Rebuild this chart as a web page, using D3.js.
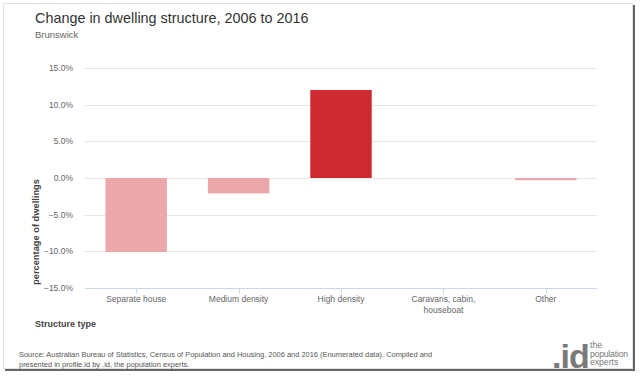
<!DOCTYPE html>
<html>
<head>
<meta charset="utf-8">
<script src="https://cdn.jsdelivr.net/npm/d3@7"></script>
<style>
  body { margin: 0; background: #fff; }
  svg { display: block; font-family: "Liberation Sans", Arial, sans-serif; }
</style>
</head>
<body>
<svg id="chart" width="640" height="376"></svg>
<script>
// Data
const categories = ['Separate house', 'Medium density', 'High density', 'Caravans, cabin, houseboat', 'Other'];
const changes = [-10.1, -2.1, 12.0, 0.0, -0.3];
const yTicks = [-15, -10, -5, 0, 5, 10, 15];

const svg = d3.select('#chart');

// Card frame with shadow
svg.append('rect').attr('x', 5).attr('y', 5).attr('width', 630).attr('height', 366).attr('fill', '#666');
svg.append('rect').attr('x', 3.5).attr('y', 3.5).attr('width', 629).attr('height', 365)
    .attr('fill', '#fff').attr('stroke', '#e2e2e2');

// Titles
svg.append('text').attr('x', 35).attr('y', 23).attr('font-size', 14.4).attr('fill', '#333')
    .text('Change in dwelling structure, 2006 to 2016');
svg.append('text').attr('x', 35).attr('y', 38).attr('font-size', 9.5).attr('fill', '#666')
    .text('Brunswick');

// Scales
const x = d3.scaleBand().domain(categories).range([85, 597]).paddingInner(0.4).paddingOuter(0.2);
const y = d3.scaleLinear().domain([-15, 15]).range([288, 68]);

// Gridlines
svg.append('g').selectAll('line').data(yTicks.filter(d => d !== -15)).join('line')
    .attr('x1', 85).attr('x2', 597)
    .attr('y1', d => Math.round(y(d)) + 0.5).attr('y2', d => Math.round(y(d)) + 0.5)
    .attr('stroke', '#e6e6e6');

// Y axis labels
svg.append('g').selectAll('text').data(yTicks).join('text')
    .attr('x', 73).attr('y', d => y(d) + 3)
    .attr('text-anchor', 'end').attr('font-size', 8.5).attr('fill', '#666')
    .text(d => d3.format('.1f')(d) + '%');

// Bars
const color = d => d > 5 ? '#cf2a31' : '#eba7aa';
svg.append('g').selectAll('rect').data(categories).join('rect')
    .attr('x', d => x(d))
    .attr('width', x.bandwidth())
    .attr('y', (d, i) => y(Math.max(0, changes[i])))
    .attr('height', (d, i) => Math.abs(y(changes[i]) - y(0)))
    .attr('fill', (d, i) => color(changes[i]));

// X axis
const xAxis = svg.append('g').attr('transform', 'translate(0,288.5)');
xAxis.append('line').attr('x1', 85).attr('x2', 597).attr('stroke', '#ccd6eb');
xAxis.selectAll('.tick').data(categories).join('line')
    .attr('x1', d => Math.round(x(d) + x.bandwidth() / 2) + 0.5)
    .attr('x2', d => Math.round(x(d) + x.bandwidth() / 2) + 0.5)
    .attr('y1', 0).attr('y2', 5).attr('stroke', '#ccd6eb');

const wrapLabel = d => d === 'Caravans, cabin, houseboat' ? ['Caravans, cabin,', 'houseboat'] : [d];
xAxis.selectAll('text').data(categories).join('text')
    .attr('x', d => x(d) + x.bandwidth() / 2)
    .attr('y', 13)
    .attr('text-anchor', 'middle').attr('font-size', 8.5).attr('fill', '#666')
    .each(function (d) {
        const t = d3.select(this);
        wrapLabel(d).forEach((line, i) => {
            t.append('tspan').attr('x', x(d) + x.bandwidth() / 2).attr('dy', i === 0 ? 0 : 11).text(line);
        });
    });

// Axis titles
svg.append('text').attr('x', 35).attr('y', 327).attr('font-size', 9).attr('font-weight', 'bold')
    .attr('fill', '#444').text('Structure type');
svg.append('text').attr('transform', 'translate(39,232) rotate(-90)')
    .attr('text-anchor', 'middle').attr('font-size', 9.3).attr('font-weight', 'bold')
    .attr('fill', '#444').text('percentage of dwellings');

// Footer
const footer = svg.append('text').attr('font-size', 7.45).attr('fill', '#555');
footer.append('tspan').attr('x', 19).attr('y', 357)
    .text('Source: Australian Bureau of Statistics, Census of Population and Housing, 2006 and 2016 (Enumerated data). Compiled and');
footer.append('tspan').attr('x', 19).attr('y', 367)
    .text('presented in profile.id by .id, the population experts.');

// Logo
svg.append('text').attr('x', 552).attr('y', 368).attr('font-size', 34).attr('font-weight', 'bold')
    .attr('fill', '#7a7a7a').attr('letter-spacing', -1).text('.id');
['the', 'population', 'experts'].forEach((w, i) => {
    svg.append('text').attr('x', 590).attr('y', 348 + i * 8.7).attr('font-size', 8.6)
        .attr('fill', '#777').attr('textLength', w === 'population' ? 38 : null).text(w);
});
</script>
</body>
</html>
